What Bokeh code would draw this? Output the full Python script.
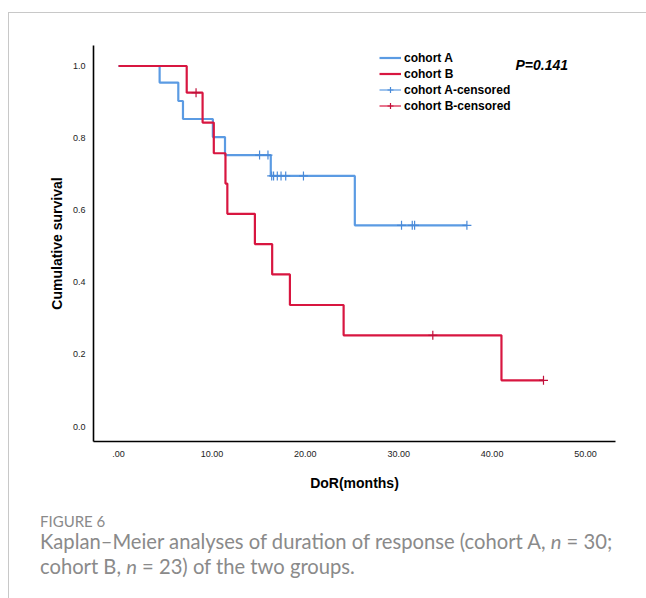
from bokeh.plotting import figure
from bokeh.models import Range1d, FixedTicker, Label, Legend, LegendItem, Div
from bokeh.layouts import column
from bokeh.embed import file_html
from bokeh.resources import INLINE

# ---------------- data ----------------
time_a = [0.0, 4.4, 6.4, 6.9, 10.1, 11.4, 16.3, 25.3, 37.3]
surv_a = [1.0, 0.954, 0.903, 0.853, 0.803, 0.753, 0.695, 0.558, 0.558]
cens_time_a = [15.1, 16.0, 16.4, 16.6, 17.0, 17.4, 17.9, 19.8, 30.3, 31.45, 31.7, 37.3]
cens_surv_a = [0.753, 0.753, 0.695, 0.695, 0.695, 0.695, 0.695, 0.695, 0.558, 0.558, 0.558, 0.558]

time_b = [0.0, 7.3, 9.0, 10.2, 11.45, 11.65, 14.6, 16.45, 18.35, 24.1, 41.0, 45.5]
surv_b = [1.0, 0.926, 0.843, 0.758, 0.674, 0.590, 0.506, 0.422, 0.337, 0.253, 0.128, 0.128]
cens_time_b = [8.3, 33.65, 45.5]
cens_surv_b = [0.926, 0.253, 0.128]

x_ticks = [0, 10, 20, 30, 40, 50]
x_tick_labels = [".00", "10.00", "20.00", "30.00", "40.00", "50.00"]
y_ticks = [0.0, 0.2, 0.4, 0.6, 0.8, 1.0]
y_tick_labels = ["0.0", "0.2", "0.4", "0.6", "0.8", "1.0"]

series_names = ["cohort A", "cohort B", "cohort A-censored", "cohort B-censored"]
p_value_text = "P=0.141"
x_title = "DoR(months)"
y_title = "Cumulative survival"
figure_label = "FIGURE 6"
caption_html = ("Kaplan\u2013Meier analyses of duration of response (cohort A, <i>n</i> = 30;"
                "<br>cohort B, <i>n</i> = 23) of the two groups.")

BLUE = "#5b9be3"
RED = "#d81640"
BLUE_C = "#4a8ad8"
RED_C = "#c0103a"

# frame placement in canvas pixels
W, H_PLOT, H_CAP = 646, 500, 98
FL, FR, FT, FB = 93, 615, 45, 441

p = figure(width=W, height=H_PLOT, output_backend="svg", toolbar_location=None,
           x_range=Range1d(-2.68, 53.21), y_range=Range1d(-0.0416, 1.0569),
           min_border_left=FL, min_border_right=W - FR,
           min_border_top=FT, min_border_bottom=H_PLOT - FB)
p.outline_line_color = None
p.grid.visible = False
p.background_fill_color = "white"
p.border_fill_alpha = 0

r_a = p.step(time_a, surv_a, mode="after", line_color=BLUE, line_width=2.2)
r_b = p.step(time_b, surv_b, mode="after", line_color=RED, line_width=2.2)
c_a = p.scatter(cens_time_a, cens_surv_a, marker="cross", size=9,
                line_color=BLUE_C, line_width=1.2)
c_b = p.scatter(cens_time_b, cens_surv_b, marker="cross", size=9,
                line_color=RED_C, line_width=1.2)
# placeholder line renderers (one NaN point, nothing drawn in the plot):
# they only supply the horizontal stroke of the censored legend icons
nan = float("nan")
l_a = p.line([nan], [nan], line_color=BLUE, line_width=1.2)
l_b = p.line([nan], [nan], line_color=RED, line_width=1.2)

for ax, ticks, labels in ((p.xaxis[0], x_ticks, x_tick_labels),
                          (p.yaxis[0], y_ticks, y_tick_labels)):
    ax.ticker = FixedTicker(ticks=ticks)
    ax.major_label_overrides = {t: l for t, l in zip(ticks, labels)}
    ax.major_tick_line_color = None
    ax.minor_tick_line_color = None
    ax.major_tick_out = 0
    ax.major_tick_in = 0
    ax.axis_line_color = "black"
    ax.axis_line_width = 1.6
    ax.major_label_text_font = "Liberation Sans"
    ax.major_label_text_font_size = "9px"
    ax.major_label_text_color = "#222222"
    ax.axis_label_text_font = "Liberation Sans"
    ax.axis_label_text_font_style = "bold"
    ax.axis_label_text_font_size = "14px"
    ax.axis_label_text_color = "black"

p.xaxis[0].axis_label = x_title
p.yaxis[0].axis_label = y_title
p.xaxis[0].major_label_standoff = 9
p.yaxis[0].major_label_standoff = 8
p.xaxis[0].axis_label_standoff = 15
p.yaxis[0].axis_label_standoff = 5

legend = Legend(items=[LegendItem(label=series_names[0], renderers=[r_a]),
                       LegendItem(label=series_names[1], renderers=[r_b]),
                       LegendItem(label=series_names[2], renderers=[l_a, c_a]),
                       LegendItem(label=series_names[3], renderers=[l_b, c_b])],
                location=(379 - FL, FB - 113), orientation="vertical",
                padding=0, margin=0, spacing=1, glyph_width=22, glyph_height=15,
                label_height=15, label_standoff=3,
                background_fill_alpha=0, border_line_color=None,
                label_text_font="Liberation Sans", label_text_font_style="bold",
                label_text_font_size="12px", label_text_color="black")
p.add_layout(legend)

p.add_layout(Label(x=515 - FL, y=FB - 64, x_units="screen", y_units="screen",
                   text=p_value_text, text_font="Liberation Sans",
                   text_font_style="bold italic", text_font_size="14px",
                   text_baseline="middle", text_color="black"))

cap = Div(width=W, height=H_CAP, margin=0,
          text=('<div style="font-family:Lato,\'Open Sans\',sans-serif;color:#8a8a8a;'
                'padding-left:40px;white-space:nowrap;">'
                '<div style="font-size:15px;line-height:16px;margin-top:13px;">'
                + figure_label + '</div>'
                '<div style="font-size:20.2px;line-height:25px;">'
                + caption_html + '</div></div>'))

page = column(p, cap, spacing=0, width=W, height=H_PLOT + H_CAP,
              styles={"background-color": "white",
                      "background-image": "linear-gradient(#c8c8c8,#c8c8c8),"
                                          "linear-gradient(#c8c8c8,#c8c8c8)",
                      "background-size": "100% 1px, 1px 100%",
                      "background-position": "8px 12px, 8px 12px",
                      "background-repeat": "no-repeat"})

open("out.html", "w").write(file_html(page, INLINE))
